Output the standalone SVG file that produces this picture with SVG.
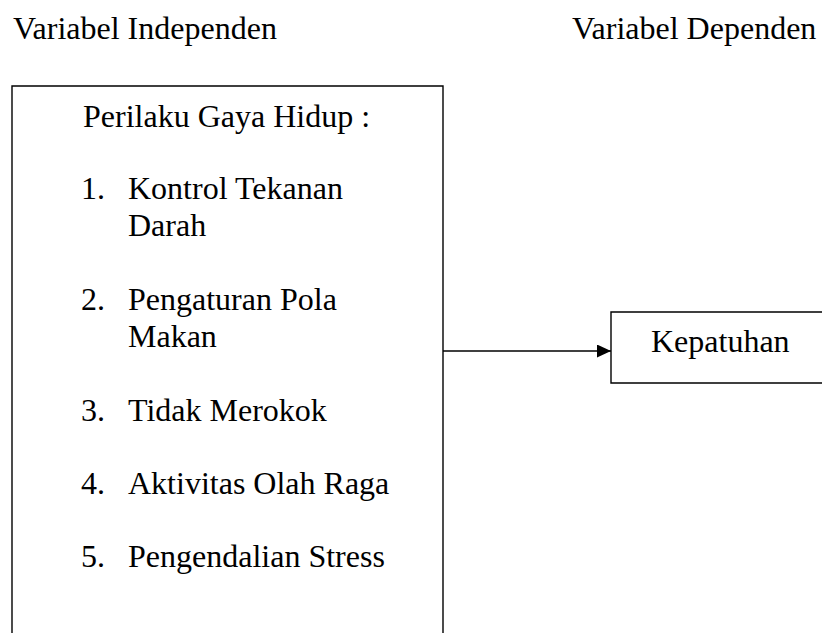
<svg xmlns="http://www.w3.org/2000/svg" width="822" height="633" viewBox="0 0 822 633">
<style>
text{font-family:"Liberation Serif","Times New Roman",serif;font-size:32px;fill:#000}
.box{fill:#fff;stroke:#000;stroke-width:1.4}
.conn{stroke:#000;stroke-width:1.6;fill:none}
</style>
<defs>
<marker id="ah" markerWidth="14" markerHeight="13" refX="14" refY="6.5" orient="auto" markerUnits="userSpaceOnUse">
<polygon points="0,0 14,6.5 0,13" fill="#000"/>
</marker>
</defs>
<rect width="822" height="633" fill="#fff"/>
<g id="headings">
<text x="13" y="39">Variabel Independen</text>
<text x="572" y="39">Variabel Dependen</text>
</g>
<g id="node-independen">
<path class="box" d="M12,640 L12,86 L443,86 L443,640"/>
<text x="83" y="127">Perilaku Gaya Hidup :</text>
<text x="81" y="199">1.</text><text x="128" y="199">Kontrol Tekanan</text>
<text x="128" y="236">Darah</text>
<text x="81" y="310">2.</text><text x="128" y="310">Pengaturan Pola</text>
<text x="128" y="347">Makan</text>
<text x="81" y="421">3.</text><text x="128" y="421">Tidak Merokok</text>
<text x="81" y="494">4.</text><text x="128" y="494">Aktivitas Olah Raga</text>
<text x="81" y="567">5.</text><text x="128" y="567">Pengendalian Stress</text>
</g>
<g id="node-dependen">
<path class="box" d="M830,312 L611,312 L611,383 L830,383"/>
<text x="651" y="352">Kepatuhan</text>
</g>
<g id="connectors">
<line class="conn" x1="443" y1="351" x2="611" y2="351" marker-end="url(#ah)"/>
</g>
</svg>
